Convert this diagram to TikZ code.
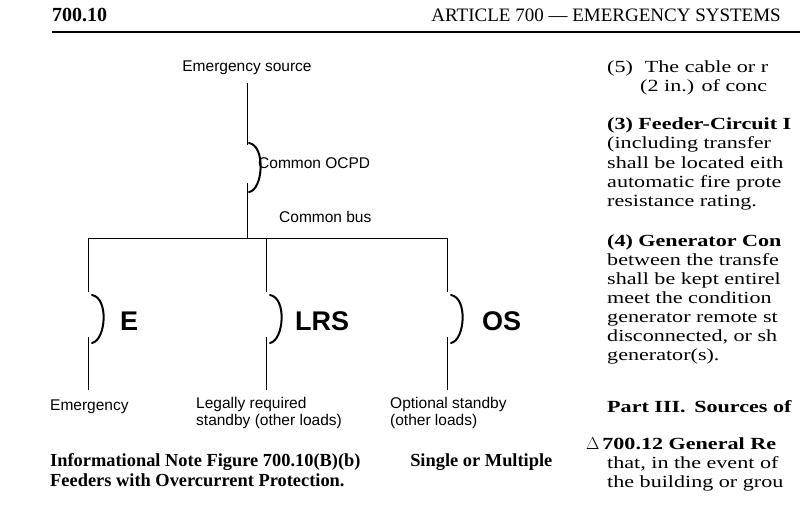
\documentclass[tikz,border=0pt]{standalone}
\usepackage{fontspec}
\setmainfont{Liberation Serif}
\setsansfont{Liberation Sans}
\newfontfamily\widefont[FakeStretch=1.3]{Liberation Serif}
\begin{document}
\begin{tikzpicture}[x=1pt,y=-1pt,
  lab/.style={font=\sffamily\fontsize{15.5}{17}\selectfont,inner sep=0pt,anchor=base west,align=left},
  big/.style={font=\sffamily\bfseries\fontsize{27}{29}\selectfont,inner sep=0pt,anchor=base west},
  body/.style={font=\widefont\fontsize{17}{19}\selectfont,inner sep=0pt,anchor=base west},
  wire/.style={line width=0.8pt},
  brk/.style={line width=2pt,line cap=round}]
\fill[white] (0,0) rectangle (800,524);
\useasboundingbox (0,0) rectangle (800,524);
\begin{scope}
\clip (0,0) rectangle (800,524);
% header
\node[body,font=\bfseries\fontsize{20}{22}\selectfont] (hl) at (52,22) {700.10};
\node[body,font=\fontsize{19}{21}\selectfont,anchor=base east] (hr) at (781,22) {ARTICLE 700 --- EMERGENCY SYSTEMS};
\draw[line width=1.4pt] (52,32) -- (800,32);
% diagram
\node[lab,anchor=base] (src) at (247,72) {Emergency source};
\coordinate (s1) at (247,83);
\coordinate (s2) at (247,145);
\coordinate (s3) at (247,183);
\coordinate (bus) at (247,238);
\draw[wire] (s1) -- (s2);
\draw[wire] (s3) -- (bus);
\draw[brk] (249,143) .. controls (266,146) and (263,190) .. (249,192);
\node[lab] (ocpd) at (258,168) {Common OCPD};
\node[lab] (cbus) at (279,222) {Common bus};
\coordinate (bl) at (88,238);
\coordinate (br) at (447,238);
\draw[wire] (bl) -- (br);
\foreach \x/\n in {88/a,266/b,447/c}{
  \coordinate (\n1) at (\x,238);
  \coordinate (\n2) at (\x,292);
  \coordinate (\n3) at (\x,337);
  \coordinate (\n4) at (\x,390);
  \draw[wire] (\n1) -- (\n2);
  \draw[wire] (\n3) -- (\n4);
  \draw[brk] (\x+4,295) .. controls (\x+21,298) and (\x+18,340) .. (\x+4,343);
}
\node[big] (e) at (120,330) {E};
\node[big] (lrs) at (295,330) {LRS};
\node[big] (os) at (482,330) {OS};
\node[lab] (le) at (50,410) {Emergency};
\node[lab,anchor=north west] (ll) at (196,397) {Legally required\\standby (other loads)};
\node[lab,anchor=north west] (lo) at (390,397) {Optional standby\\(other loads)};
% caption
\node[font=\bfseries\fontsize{18.4}{20}\selectfont,inner sep=0pt,align=left,anchor=north west] (cap) at (50,453)
  {Informational Note Figure 700.10(B)(b)\hspace{2.7em}Single or Multiple\\Feeders with Overcurrent Protection.};
% right column
\node[body] (r1) at (607,73) {(5)\hspace{0.7em}The cable or r};
\node[body] (r2) at (640,92) {(2 in.) of conc};
\node[body] (r3) at (607,130) {\textbf{(3) Feeder-Circuit I}};
\node[body] (r4) at (607,149) {(including transfer};
\node[body] (r5) at (607,168) {shall be located eith};
\node[body] (r6) at (607,187) {automatic fire prote};
\node[body] (r7) at (607,206) {resistance rating.};
\node[body] (r8) at (607,246) {\textbf{(4) Generator Con}};
\node[body] (r9) at (607,265) {between the transfe};
\node[body] (r10) at (607,284) {shall be kept entirel};
\node[body] (r11) at (607,303) {meet the condition};
\node[body] (r12) at (607,322) {generator remote st};
\node[body] (r13) at (607,341) {disconnected, or sh};
\node[body] (r14) at (607,360) {generator(s).};
\node[body] (r15) at (607,412) {\textbf{Part III.\hspace{0.5em}Sources of}};
\node[body] (r16) at (586,449) {\textbf{$\Delta$\,700.12 General Re}};
\node[body] (r17) at (607,468) {that, in the event of};
\node[body] (r18) at (607,487) {the building or grou};
\end{scope}
\end{tikzpicture}
\end{document}
